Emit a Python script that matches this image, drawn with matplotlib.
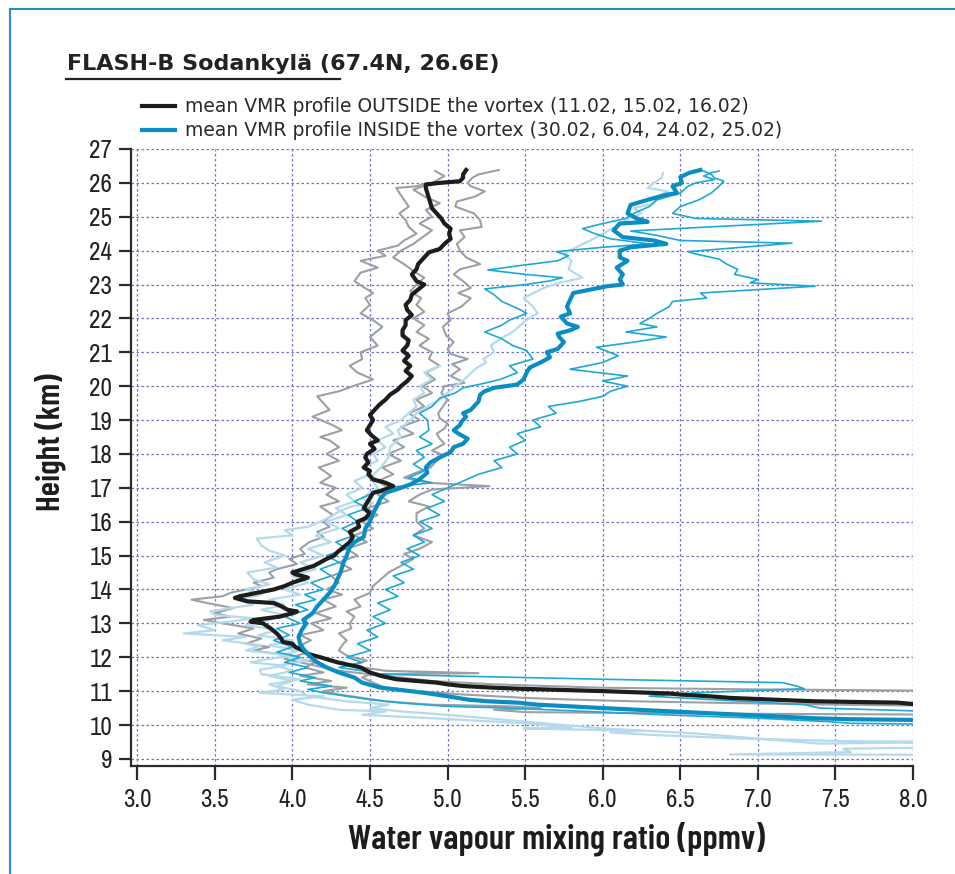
import numpy as np
import matplotlib
matplotlib.use("Agg")
import matplotlib.pyplot as plt
from matplotlib.lines import Line2D

# perfiles (altura km, razon de mezcla ppmv)
out_mean = [(10.62, 8.0), (10.66, 7.9), (10.7, 7.36), (10.8, 6.82), (10.84, 6.71), (10.9, 6.5), (10.93, 6.43),
            (11.0, 6.0), (11.07, 5.47), (11.1, 5.3), (11.15, 5.1), (11.2, 5.0), (11.25, 4.93), (11.35, 4.67),
            (11.45, 4.57), (11.55, 4.5), (11.7, 4.44), (11.85, 4.29), (12.0, 4.18), (12.1, 4.1), (12.2, 4.07),
            (12.3, 4.02), (12.4, 4.0), (12.45, 3.94), (12.6, 3.92), (12.7, 3.9), (12.85, 3.86), (13.0, 3.81),
            (13.05, 3.73), (13.1, 3.75), (13.2, 3.92), (13.3, 4.0), (13.35, 4.03), (13.4, 3.97), (13.5, 3.93),
            (13.6, 3.88), (13.65, 3.71), (13.75, 3.63), (13.8, 3.66), (13.9, 3.77), (14.0, 3.88), (14.1, 3.95),
            (14.2, 4.0), (14.35, 4.1), (14.45, 4.02), (14.5, 4.0), (14.6, 4.07), (14.7, 4.14), (14.8, 4.18),
            (14.9, 4.22), (15.0, 4.27), (15.1, 4.29), (15.25, 4.33), (15.4, 4.37), (15.55, 4.39), (15.7, 4.37),
            (15.85, 4.43), (16.0, 4.42), (16.1, 4.47), (16.25, 4.5), (16.4, 4.46), (16.55, 4.48), (16.7, 4.5),
            (16.85, 4.52), (16.95, 4.6), (17.05, 4.65), (17.15, 4.6), (17.25, 4.52), (17.4, 4.49), (17.5, 4.5),
            (17.6, 4.46), (17.75, 4.49), (17.9, 4.47), (18.0, 4.48), (18.15, 4.53), (18.3, 4.5), (18.4, 4.55),
            (18.55, 4.51), (18.7, 4.48), (18.85, 4.5), (19.0, 4.52), (19.15, 4.5), (19.3, 4.53), (19.45, 4.56),
            (19.6, 4.6), (19.75, 4.63), (19.9, 4.68), (20.0, 4.7), (20.15, 4.74), (20.3, 4.77), (20.45, 4.73),
            (20.6, 4.76), (20.75, 4.72), (20.9, 4.75), (21.05, 4.71), (21.2, 4.74), (21.35, 4.75), (21.5, 4.71),
            (21.65, 4.71), (21.8, 4.73), (21.95, 4.73), (22.1, 4.77), (22.25, 4.74), (22.4, 4.73), (22.55, 4.76),
            (22.7, 4.77), (22.85, 4.81), (23.0, 4.85), (23.1, 4.8), (23.3, 4.77), (23.45, 4.8), (23.6, 4.81),
            (23.8, 4.85), (23.95, 4.88), (24.05, 4.95), (24.2, 4.98), (24.35, 5.02), (24.5, 5.01), (24.65, 5.02),
            (24.8, 4.98), (24.95, 4.96), (25.1, 4.93), (25.25, 4.9), (25.4, 4.89), (25.55, 4.88), (25.7, 4.87),
            (25.85, 4.86), (25.95, 4.86), (26.0, 4.95), (26.05, 5.08), (26.15, 5.1), (26.25, 5.1), (26.38, 5.12)]

in_mean = [(10.15, 8.0), (10.17, 7.6), (10.2, 7.36), (10.3, 6.9), (10.4, 6.45), (10.5, 6.0), (10.6, 5.58),
           (10.66, 5.45), (10.7, 5.26), (10.75, 5.13), (10.85, 5.0), (10.95, 4.85), (11.05, 4.67), (11.1, 4.57),
           (11.25, 4.45), (11.4, 4.4), (11.55, 4.3), (11.7, 4.22), (11.85, 4.16), (12.0, 4.12), (12.1, 4.1),
           (12.25, 4.07), (12.4, 4.05), (12.6, 4.04), (12.8, 4.06), (13.0, 4.09), (13.1, 4.07), (13.3, 4.13),
           (13.5, 4.16), (13.7, 4.2), (13.9, 4.24), (14.1, 4.27), (14.3, 4.29), (14.5, 4.31), (14.8, 4.33),
           (15.0, 4.35), (15.25, 4.37), (15.4, 4.4), (15.55, 4.46), (15.8, 4.47), (16.0, 4.5), (16.25, 4.52),
           (16.5, 4.55), (16.7, 4.57), (16.85, 4.6), (17.0, 4.7), (17.1, 4.76), (17.25, 4.82), (17.45, 4.87),
           (17.6, 4.86), (17.75, 4.89), (17.9, 4.95), (18.05, 5.02), (18.2, 5.04), (18.3, 5.1), (18.45, 5.13),
           (18.6, 5.07), (18.7, 5.04), (18.85, 5.08), (18.95, 5.09), (19.1, 5.12), (19.2, 5.1), (19.3, 5.15),
           (19.4, 5.17), (19.55, 5.2), (19.75, 5.21), (19.85, 5.24), (19.95, 5.3), (20.05, 5.45), (20.2, 5.49),
           (20.4, 5.51), (20.55, 5.53), (20.7, 5.6), (20.85, 5.66), (21.0, 5.64), (21.1, 5.71), (21.3, 5.75),
           (21.45, 5.72), (21.55, 5.71), (21.65, 5.79), (21.75, 5.84), (21.85, 5.77), (22.05, 5.73), (22.15, 5.79),
           (22.35, 5.77), (22.55, 5.79), (22.75, 5.81), (22.85, 5.92), (22.95, 6.03), (23.0, 6.13), (23.15, 6.11),
           (23.3, 6.13), (23.5, 6.09), (23.7, 6.16), (23.8, 6.11), (24.0, 6.11), (24.1, 6.18), (24.2, 6.41),
           (24.3, 6.33), (24.4, 6.13), (24.6, 6.07), (24.8, 6.11), (24.85, 6.29), (24.95, 6.22), (25.1, 6.16),
           (25.35, 6.18), (25.5, 6.29), (25.65, 6.41), (25.7, 6.48), (25.9, 6.45), (26.0, 6.51), (26.17, 6.5),
           (26.3, 6.56), (26.38, 6.63)]

# perfiles individuales fuera del vortice (11.02, 15.02, 16.02)
out_a = [(11.0, 8.5), (11.05, 7.0), (11.1, 6.0), (11.2, 5.3), (11.3, 4.9), (11.45, 4.6), (11.6, 4.3),
         (11.75, 4.15), (11.85, 4.05), (11.95, 3.95), (12.05, 4.0), (12.15, 3.82), (12.2, 3.75), (12.3, 3.85),
         (12.4, 3.7), (12.55, 3.8), (12.7, 3.65), (12.85, 3.75), (13.0, 3.55), (13.1, 3.43), (13.2, 3.6),
         (13.3, 3.5), (13.45, 3.62), (13.6, 3.45), (13.7, 3.35), (13.8, 3.55), (13.9, 3.6), (14.0, 3.7),
         (14.1, 3.8), (14.2, 3.75), (14.35, 3.88), (14.5, 3.85), (14.6, 3.9), (14.75, 4.03), (14.9, 3.98),
         (15.05, 4.08), (15.2, 4.05), (15.4, 4.11), (15.55, 4.2), (15.7, 4.16), (15.85, 4.24), (16.0, 4.2),
         (16.2, 4.26), (16.45, 4.18), (16.6, 4.3), (16.8, 4.22), (17.0, 4.28), (17.15, 4.18), (17.35, 4.25),
         (17.6, 4.17), (17.8, 4.3), (18.0, 4.22), (18.2, 4.3), (18.4, 4.24), (18.5, 4.18), (18.7, 4.32),
         (18.85, 4.26), (19.1, 4.13), (19.3, 4.24), (19.5, 4.2), (19.7, 4.16), (19.85, 4.3), (20.0, 4.39),
         (20.2, 4.52), (20.4, 4.42), (20.6, 4.37), (20.8, 4.45), (21.0, 4.44), (21.2, 4.55), (21.45, 4.5),
         (21.75, 4.58), (21.95, 4.52), (22.15, 4.44), (22.4, 4.5), (22.6, 4.47), (22.75, 4.52), (22.95, 4.45),
         (23.1, 4.4), (23.35, 4.44), (23.5, 4.55), (23.7, 4.44), (23.85, 4.6), (24.0, 4.55), (24.15, 4.68),
         (24.3, 4.72), (24.5, 4.8), (24.7, 4.75), (24.9, 4.73), (25.1, 4.69), (25.3, 4.75), (25.5, 4.72),
         (25.7, 4.69), (25.85, 4.67), (25.9, 4.8), (26.0, 4.87)]

out_b = [(10.55, 8.5), (10.6, 7.5), (10.65, 6.8), (10.7, 6.2), (10.75, 5.8), (10.8, 5.5), (10.9, 5.1),
         (11.0, 4.8), (11.1, 4.6), (11.25, 4.52), (11.4, 4.45), (11.5, 4.5), (11.53, 5.2), (11.6, 4.6),
         (11.75, 4.38), (11.9, 4.48), (12.05, 4.35), (12.2, 4.3), (12.35, 4.32), (12.5, 4.35), (12.7, 4.3),
         (12.85, 4.38), (13.0, 4.37), (13.2, 4.4), (13.35, 4.35), (13.5, 4.44), (13.7, 4.4), (13.9, 4.5),
         (14.1, 4.52), (14.3, 4.57), (14.5, 4.62), (14.7, 4.7), (14.9, 4.78), (15.05, 4.72), (15.2, 4.82),
         (15.4, 4.9), (15.6, 4.78), (15.8, 4.85), (16.0, 4.8), (16.25, 4.8), (16.45, 4.88), (16.6, 4.75),
         (16.8, 4.82), (16.95, 4.9), (17.05, 5.27), (17.15, 4.87), (17.3, 4.72), (17.45, 4.8), (17.6, 4.89),
         (17.8, 4.93), (17.95, 4.98), (18.1, 4.9), (18.3, 4.98), (18.45, 4.95), (18.6, 4.93), (18.75, 4.98),
         (18.9, 5.0), (19.05, 4.95), (19.2, 4.94), (19.4, 4.97), (19.6, 5.0), (19.8, 4.96), (20.0, 4.98),
         (20.1, 5.11), (20.3, 5.02), (20.5, 5.08), (20.65, 5.03), (20.8, 5.13), (20.95, 5.02), (21.1, 5.0),
         (21.3, 5.04), (21.5, 4.99), (21.75, 4.97), (21.95, 5.02), (22.15, 5.0), (22.35, 5.09), (22.6, 5.15),
         (22.75, 5.07), (22.9, 5.15), (23.1, 5.1), (23.3, 5.04), (23.45, 5.08), (23.6, 5.21), (23.8, 5.12),
         (24.0, 5.08), (24.2, 5.06), (24.4, 5.11), (24.6, 5.08), (24.7, 5.22), (24.9, 5.21), (25.1, 5.17),
         (25.3, 5.05), (25.45, 5.06), (25.6, 5.18), (25.75, 5.24), (25.9, 5.15), (26.0, 5.13), (26.15, 5.16),
         (26.25, 5.2), (26.38, 5.33)]

out_c = [(10.3, 8.5), (10.33, 7.0), (10.36, 6.0), (10.38, 5.5), (10.45, 5.3), (10.5, 5.6), (10.55, 5.4),
         (10.6, 4.9), (10.7, 4.6), (10.8, 4.45), (10.9, 4.3), (11.0, 4.2), (11.1, 4.35), (11.2, 4.1),
         (11.3, 4.25), (11.45, 4.05), (11.55, 4.2), (11.7, 4.08), (11.85, 4.15), (12.0, 4.0), (12.15, 4.1),
         (12.3, 4.03), (12.5, 4.12), (12.65, 4.05), (12.8, 4.2), (13.0, 4.12), (13.15, 4.25), (13.3, 4.15),
         (13.5, 4.28), (13.7, 4.2), (13.85, 4.32), (14.0, 4.22), (14.2, 4.3), (14.4, 4.25), (14.6, 4.38),
         (14.8, 4.3), (15.0, 4.42), (15.2, 4.35), (15.4, 4.48), (15.6, 4.4), (15.8, 4.52), (16.0, 4.45),
         (16.2, 4.55), (16.4, 4.48), (16.6, 4.62), (16.8, 4.55), (17.0, 4.62), (17.2, 4.55), (17.4, 4.65),
         (17.6, 4.58), (17.8, 4.7), (18.0, 4.62), (18.2, 4.72), (18.4, 4.65), (18.6, 4.78), (18.8, 4.7),
         (19.0, 4.82), (19.2, 4.75), (19.4, 4.85), (19.6, 4.8), (19.8, 4.9), (20.0, 4.84), (20.2, 4.92),
         (20.4, 4.86), (20.6, 4.95), (20.8, 4.88), (21.0, 4.9), (21.2, 4.82), (21.4, 4.88), (21.6, 4.8),
         (21.8, 4.85), (22.0, 4.78), (22.2, 4.85), (22.4, 4.8), (22.6, 4.83), (22.8, 4.76), (23.0, 4.8),
         (23.2, 4.85), (23.4, 4.78), (23.6, 4.72), (23.8, 4.65), (24.0, 4.7), (24.2, 4.78), (24.4, 4.84),
         (24.6, 4.9), (24.8, 4.82), (25.0, 4.9), (25.2, 4.86), (25.4, 4.95), (25.6, 4.85), (25.8, 4.78),
         (26.0, 4.9), (26.2, 4.98), (26.35, 4.92)]

# perfiles individuales dentro del vortice (30.02, 6.04, 24.02, 25.02)
in_a = [(10.35, 8.5), (10.5, 7.4), (10.6, 7.3), (10.7, 6.9), (10.8, 6.5), (10.85, 6.3), (10.95, 6.6),
        (11.07, 7.3), (11.15, 7.25), (11.25, 7.16), (11.35, 6.0), (11.45, 5.0), (11.5, 4.57), (11.6, 4.45),
        (11.7, 4.3), (11.85, 4.45), (12.0, 4.35), (12.2, 4.5), (12.4, 4.42), (12.6, 4.55), (12.8, 4.48),
        (13.0, 4.6), (13.2, 4.52), (13.4, 4.63), (13.6, 4.55), (13.8, 4.68), (14.0, 4.6), (14.2, 4.72),
        (14.4, 4.65), (14.6, 4.78), (14.8, 4.7), (15.0, 4.82), (15.2, 4.74), (15.4, 4.85), (15.6, 4.78),
        (15.8, 4.9), (16.0, 4.82), (16.2, 4.95), (16.4, 4.87), (16.6, 4.98), (16.8, 4.9), (17.0, 5.0),
        (17.2, 5.1), (17.4, 5.2), (17.6, 5.35), (17.8, 5.3), (18.0, 5.45), (18.2, 5.4), (18.4, 5.5),
        (18.6, 5.45), (18.8, 5.6), (19.0, 5.55), (19.2, 5.7), (19.4, 5.65), (19.55, 5.85), (19.7, 6.0),
        (19.85, 6.05), (20.0, 6.16), (20.15, 6.0), (20.3, 6.16), (20.5, 5.79), (20.7, 6.0), (20.9, 6.1),
        (21.15, 5.96), (21.3, 6.2), (21.45, 6.41), (21.6, 6.15), (21.75, 6.35), (21.85, 6.24), (22.0, 6.3),
        (22.15, 6.35), (22.35, 6.43), (22.5, 6.45), (22.6, 6.67), (22.75, 6.63), (22.95, 7.37), (23.05, 6.95),
        (23.15, 7.0), (23.3, 6.85), (23.45, 6.87), (23.6, 6.8), (23.75, 6.75), (23.9, 6.6), (23.97, 6.55),
        (24.22, 7.22), (24.3, 6.5), (24.45, 6.35), (24.58, 6.18), (24.87, 7.41), (24.95, 6.6), (25.1, 6.45),
        (25.3, 6.5), (25.5, 6.62), (25.7, 6.7), (25.9, 6.75), (26.05, 6.78), (26.15, 6.72), (26.25, 6.7),
        (26.35, 6.65)]

in_b = [(10.0, 8.5), (10.05, 7.6), (10.1, 7.45), (10.2, 7.0), (10.3, 6.4), (10.4, 5.9), (10.5, 5.4),
        (10.55, 5.0), (10.65, 4.7), (10.75, 4.5), (10.85, 4.35), (10.95, 4.2), (11.05, 4.1), (11.15, 4.25),
        (11.3, 4.05), (11.4, 4.15), (11.55, 3.98), (11.7, 4.1), (11.85, 3.95), (12.0, 4.05), (12.15, 3.9),
        (12.3, 4.0), (12.5, 3.88), (12.65, 3.98), (12.85, 3.9), (13.0, 4.05), (13.2, 3.95), (13.4, 4.1),
        (13.55, 4.02), (13.7, 4.15), (13.85, 4.08), (14.0, 4.2), (14.2, 4.12), (14.4, 4.25), (14.6, 4.18),
        (14.8, 4.3), (15.0, 4.22), (15.2, 4.35), (15.4, 4.28), (15.6, 4.4), (15.8, 4.32), (16.0, 4.42),
        (16.2, 4.36), (16.4, 4.48), (16.6, 4.4), (16.8, 4.5), (17.0, 4.6), (17.15, 4.9), (17.3, 4.75),
        (17.5, 4.85), (17.7, 4.78), (17.9, 4.85), (18.1, 4.8), (18.3, 4.9), (18.5, 4.82), (18.7, 4.88),
        (19.0, 4.87), (19.2, 4.82), (19.4, 4.9), (19.65, 4.95), (19.8, 5.05), (19.95, 5.1), (20.1, 5.25),
        (20.2, 5.34), (20.4, 5.45), (20.6, 5.4), (20.8, 5.55), (21.05, 5.51), (21.2, 5.42), (21.4, 5.35),
        (21.6, 5.24), (21.8, 5.35), (21.95, 5.4), (22.15, 5.51), (22.3, 5.45), (22.5, 5.35), (22.7, 5.3),
        (22.87, 5.24), (23.0, 5.5), (23.1, 5.65), (23.2, 5.74), (23.3, 5.5), (23.43, 5.26), (23.55, 5.45),
        (23.7, 5.71), (23.85, 5.78), (23.97, 5.7), (24.1, 6.0), (24.2, 6.3), (24.35, 6.05), (24.5, 5.95),
        (24.65, 5.87), (24.8, 6.0), (24.95, 6.15), (25.1, 6.2), (25.3, 6.3), (25.5, 6.35), (25.7, 6.5),
        (25.9, 6.55), (26.0, 6.6), (26.1, 6.72), (26.2, 6.65), (26.3, 6.7), (26.35, 6.75)]

in_c = [(9.12, 8.5), (9.13, 6.82), (9.2, 7.6), (9.3, 7.55), (9.36, 8.5), (9.5, 8.5), (9.52, 7.6),
        (9.6, 6.9), (9.7, 6.35), (9.78, 6.05), (9.83, 6.26), (9.87, 5.8), (9.9, 5.49), (9.93, 5.8),
        (10.05, 5.5), (10.2, 4.9), (10.3, 4.45), (10.4, 4.6), (10.45, 4.3), (10.6, 4.1), (10.75, 4.0),
        (10.85, 4.2), (10.95, 3.79), (11.05, 3.95), (11.2, 3.85), (11.35, 4.05), (11.5, 3.8), (11.63, 3.79),
        (11.75, 3.95), (11.85, 3.73), (11.95, 3.85), (12.05, 4.0), (12.2, 3.7), (12.35, 3.8), (12.5, 3.55),
        (12.6, 3.7), (12.7, 3.3), (12.8, 3.5), (12.95, 3.39), (13.05, 3.6), (13.15, 3.75), (13.25, 3.5),
        (13.35, 3.47), (13.45, 3.6), (13.55, 3.75), (13.7, 3.65), (13.85, 3.8), (14.0, 3.7), (14.15, 3.85),
        (14.3, 3.75), (14.5, 3.71), (14.65, 3.9), (14.8, 3.82), (15.0, 3.95), (15.15, 3.85), (15.3, 3.8),
        (15.5, 3.77), (15.6, 4.0), (15.75, 3.95), (15.85, 4.1), (16.0, 4.18), (16.15, 4.25), (16.3, 4.3),
        (16.45, 4.38), (16.55, 4.52), (16.7, 4.45), (16.85, 4.5), (17.0, 4.55), (17.3, 4.5), (17.6, 4.57),
        (17.9, 4.62), (18.2, 4.63), (18.5, 4.7), (18.7, 4.68), (19.0, 4.76), (19.2, 4.8), (19.4, 4.87),
        (19.6, 4.95), (19.8, 5.0), (20.0, 5.05), (20.25, 5.12), (20.55, 5.19), (20.7, 5.25), (20.8, 5.23),
        (21.0, 5.3), (21.2, 5.28), (21.4, 5.34), (21.6, 5.42), (21.8, 5.47), (21.95, 5.51), (22.15, 5.58),
        (22.35, 5.55), (22.6, 5.49), (22.9, 5.62), (23.05, 5.72), (23.2, 5.87), (23.45, 5.78), (23.7, 5.8),
        (23.9, 5.75), (24.1, 5.83), (24.3, 5.92), (24.5, 6.0), (24.7, 6.08), (24.9, 6.15), (25.1, 6.25),
        (25.25, 6.2), (25.4, 6.33), (25.6, 6.35), (25.75, 6.42), (25.85, 6.29), (26.0, 6.33), (26.15, 6.38),
        (26.3, 6.39)]

in_d = [(9.45, 8.5), (9.48, 7.9), (9.45, 7.4), (9.6, 7.0), (9.75, 6.6), (9.9, 6.0), (10.1, 5.5),
        (10.3, 5.0), (10.4, 4.7), (10.5, 4.5), (10.6, 4.62), (10.7, 4.35), (10.85, 4.1), (11.0, 4.05),
        (11.15, 3.9), (11.3, 4.0), (11.45, 3.85), (11.6, 4.0), (11.75, 3.9), (11.9, 4.1), (12.05, 3.92),
        (12.2, 4.05), (12.35, 3.85), (12.5, 4.0), (12.65, 3.78), (12.8, 3.9), (12.95, 3.7), (13.1, 3.85),
        (13.25, 3.95), (13.4, 3.8), (13.55, 3.95), (13.7, 3.85), (13.85, 4.05), (14.0, 3.95), (14.2, 4.1),
        (14.4, 4.0), (14.6, 4.15), (14.8, 4.05), (15.0, 4.2), (15.2, 4.1), (15.4, 4.25), (15.6, 4.15),
        (15.8, 4.3), (16.0, 4.22), (16.2, 4.35), (16.4, 4.28), (16.6, 4.4), (16.8, 4.35), (17.0, 4.45),
        (17.2, 4.4), (17.4, 4.5), (17.6, 4.45), (17.8, 4.55), (18.0, 4.52), (18.2, 4.6), (18.4, 4.55),
        (18.6, 4.65), (18.8, 4.6), (19.0, 4.7), (19.2, 4.75), (19.4, 4.8), (19.6, 4.78), (19.8, 4.85),
        (20.0, 4.82), (20.2, 4.9), (20.4, 4.85), (20.6, 4.95)]

x_ticks = [3.0, 3.5, 4.0, 4.5, 5.0, 5.5, 6.0, 6.5, 7.0, 7.5, 8.0]
y_ticks = list(range(9, 28))

legend_labels = ["mean VMR profile OUTSIDE the vortex (11.02, 15.02, 16.02)",
                 "mean VMR profile INSIDE the vortex (30.02, 6.04, 24.02, 25.02)"]

TICKFONT = ["Archivo Narrow", "DejaVu Sans"]
LABELFONT = ["Barlow Condensed", "DejaVu Sans"]

GRAY = "#9ca0a5"
BLACK = "#1d1d1b"
BLUE = "#0a8dc2"
MID = "#1ea8d8"
LIGHT = "#b4daec"

W, H = 955, 874
fig = plt.figure(figsize=(W / 100, H / 100), dpi=100)
ax = fig.add_axes([131 / W, 1 - 766 / H, 782 / W, 617 / H])


def draw(prof, **kw):
    h, x = np.array(prof).T
    ax.plot(x, h, solid_joinstyle="round", **kw)


for p in (out_a, out_b, out_c):
    draw(p, color=GRAY, lw=1.5, zorder=2)
for p in (in_c, in_d):
    draw(p, color=LIGHT, lw=1.6, zorder=3)
for p in (in_a, in_b):
    draw(p, color=MID, lw=1.2, zorder=4)
draw(out_mean, color=BLACK, lw=3.0, zorder=5)
draw(in_mean, color=BLUE, lw=3.0, zorder=6)

ax.set_xlim(2.96, 8.0)
ax.set_ylim(8.79, 27)
ax.set_xticks(x_ticks)
ax.set_xticklabels([f"{v:.1f}" for v in x_ticks])
ax.set_yticks(y_ticks)
ax.grid(True, color="#6f73c6", lw=0.9, linestyle=(0, (2, 2)))
ax.set_axisbelow(True)
for s in ("top", "right"):
    ax.spines[s].set_visible(False)
for s in ("left", "bottom"):
    ax.spines[s].set_color("#2b2b2b")
    ax.spines[s].set_linewidth(1.6)
ax.tick_params(axis="x", direction="out", length=10, width=1.6, color="#2b2b2b", pad=6)
ax.tick_params(axis="y", direction="out", length=8.5, width=1.6, color="#2b2b2b", pad=5)
for lab in ax.get_xticklabels() + ax.get_yticklabels():
    lab.set_family(TICKFONT)
    lab.set_fontsize(18)
    lab.set_color("#222222")

ax.set_xlabel("Water vapour mixing ratio (ppmv)", family=LABELFONT, fontweight="semibold", fontsize=25,
              color="#1d1d1b", va="center")
ax.xaxis.set_label_coords((556 - 131) / 782, (766 - 839) / 617)
ax.set_ylabel("Height (km)", family=LABELFONT, fontweight="semibold", fontsize=24, color="#1d1d1b",
              va="center")
ax.yaxis.set_label_coords((50 - 131) / 782, (766 - 442) / 617)

# titulo subrayado
fig.text(67 / W, 1 - 64 / H, "FLASH-B Sodankylä (67.4N, 26.6E)", fontsize=16, fontweight="bold",
         color="#222222", va="center", ha="left")
fig.add_artist(Line2D([66 / W, 340 / W], [1 - 79 / H] * 2, color="#222222", lw=1.6))

# leyenda
for yy, col, txt in ((106, BLACK, legend_labels[0]), (130, BLUE, legend_labels[1])):
    fig.add_artist(Line2D([142 / W, 175 / W], [1 - yy / H] * 2, color=col, lw=3.0))
    fig.text(185 / W, 1 - yy / H, txt, fontsize=13.5, color="#2a2a2a", va="center", ha="left")

# marco
fig.add_artist(Line2D([10 / W, 1], [1 - 9 / H] * 2, color="#2a8fbf", lw=1.5))
fig.add_artist(Line2D([10 / W, 10 / W], [0, 1 - 9 / H], color="#2a8fbf", lw=1.5))

fig.savefig("out.png", dpi=100)
